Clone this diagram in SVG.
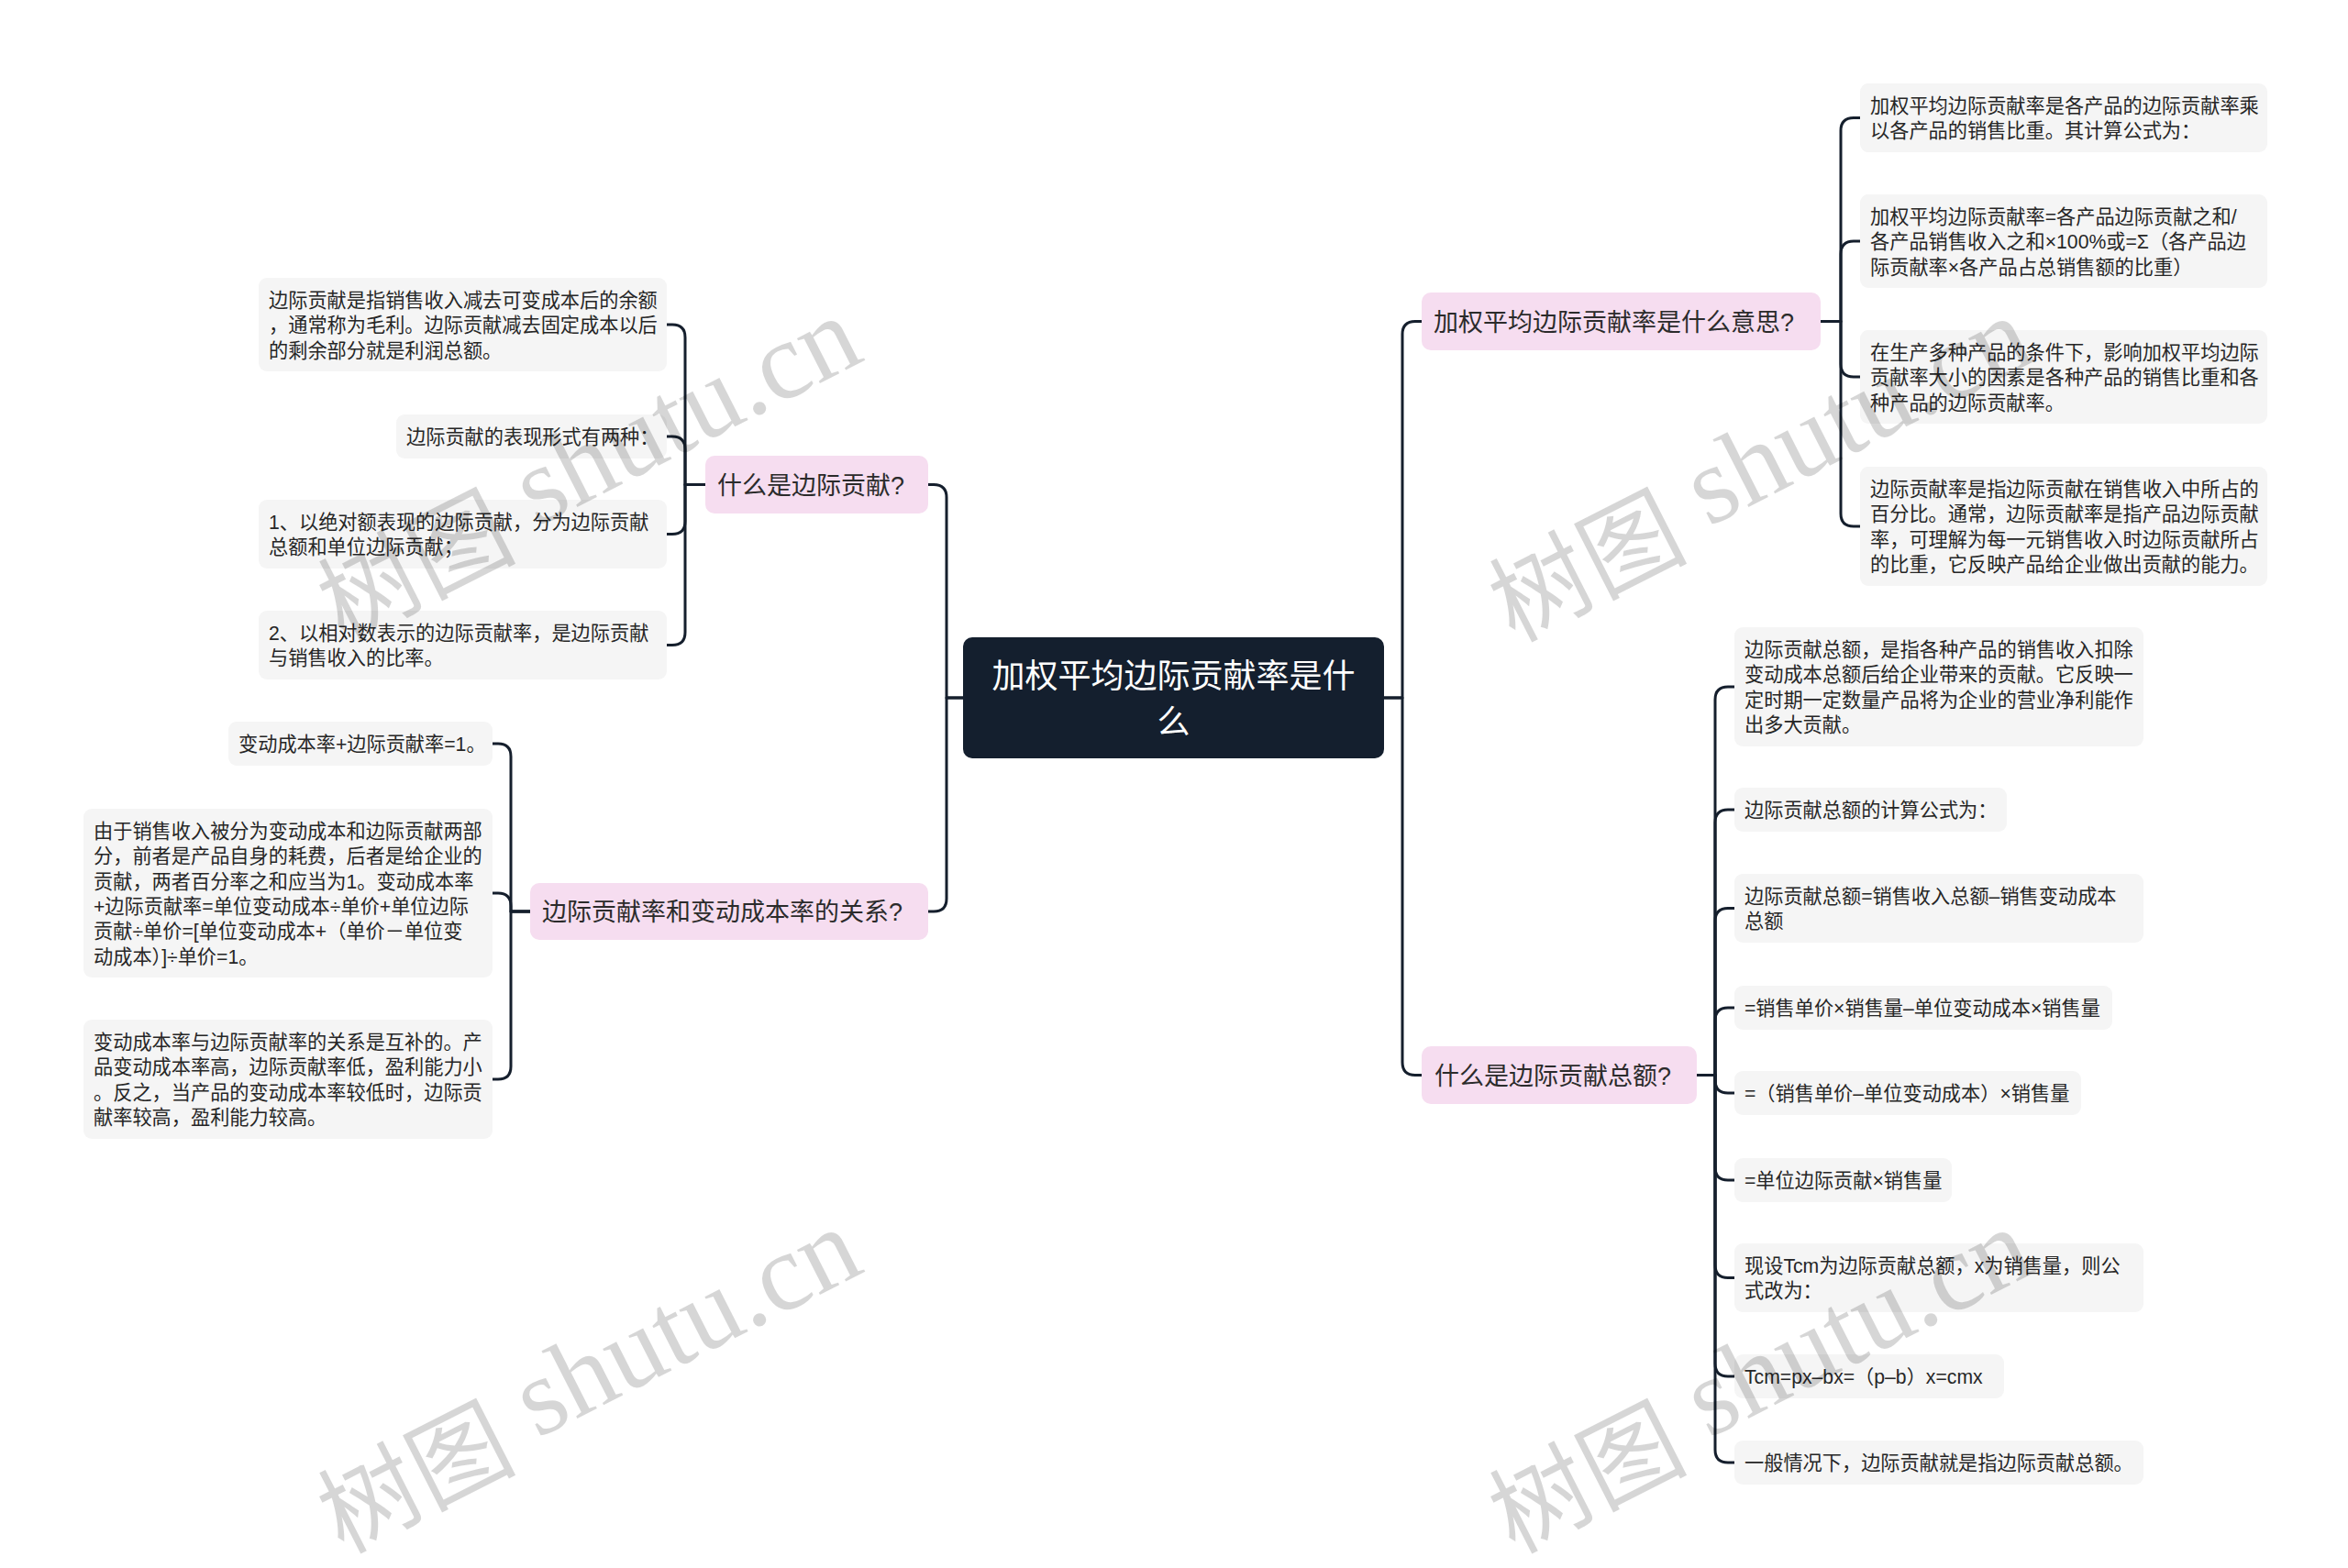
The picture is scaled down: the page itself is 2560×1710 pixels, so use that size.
<svg xmlns="http://www.w3.org/2000/svg" width="2560" height="1710" viewBox="0 0 2560 1710">
<style>
.bg{fill:#ffffff}
.root rect{fill:#141f2e}
.root text{fill:#ffffff;font-size:36px;text-anchor:middle}
.l1 rect{fill:#f6ddf0}
.l1 text{fill:#2b2b2b;font-size:27px}
.l2 rect{fill:#f5f5f5}
.l2 text{fill:#262626;font-size:21.2px}
text{font-family:"Liberation Sans","Noto Sans CJK SC",sans-serif}
.root text{font-family:"Noto Sans CJK SC","Noto Sans",sans-serif}
.conn path{fill:none;stroke:#151f2d;stroke-width:3;stroke-linecap:round;stroke-linejoin:round}
.wm{font-family:"Liberation Serif","Noto Sans CJK SC",serif;font-size:120px;fill:#000;fill-opacity:0.16;text-anchor:end}
.wm .cjk{font-family:"Noto Sans CJK SC",serif;font-size:108px}
</style>
<rect class="bg" x="0" y="0" width="2560" height="1710"/>
<g id="connectors" class="conn">
<path d="M1509,761 H1529 V364.5 Q1529,350.5 1543,350.5 H1550"/>
<path d="M1509,761 H1529 V1158.5 Q1529,1172.5 1543,1172.5 H1550"/>
<path d="M1050,761 H1032 V542.5 Q1032,528.5 1018,528.5 H1012"/>
<path d="M1050,761 H1032 V980 Q1032,994 1018,994 H1012"/>
<path d="M1985,350.5 H2007 V142.5 Q2007,128.5 2021,128.5 H2028"/>
<path d="M1985,350.5 H2007 V277 Q2007,263 2021,263 H2028"/>
<path d="M1985,350.5 H2007 V397 Q2007,411 2021,411 H2028"/>
<path d="M1985,350.5 H2007 V560 Q2007,574 2021,574 H2028"/>
<path d="M1850,1172.5 H1870 V763 Q1870,749 1884,749 H1891"/>
<path d="M1850,1172.5 H1870 V897 Q1870,883 1884,883 H1891"/>
<path d="M1850,1172.5 H1870 V1004.5 Q1870,990.5 1884,990.5 H1891"/>
<path d="M1850,1172.5 H1870 V1113 Q1870,1099 1884,1099 H1891"/>
<path d="M1850,1172.5 H1870 V1178 Q1870,1192 1884,1192 H1891"/>
<path d="M1850,1172.5 H1870 V1273 Q1870,1287 1884,1287 H1891"/>
<path d="M1850,1172.5 H1870 V1379.5 Q1870,1393.5 1884,1393.5 H1891"/>
<path d="M1850,1172.5 H1870 V1487 Q1870,1501 1884,1501 H1891"/>
<path d="M1850,1172.5 H1870 V1581 Q1870,1595 1884,1595 H1891"/>
<path d="M769,528.5 H747 V368 Q747,354 733,354 H727"/>
<path d="M769,528.5 H747 V490 Q747,476 733,476 H727"/>
<path d="M769,528.5 H747 V568.5 Q747,582.5 733,582.5 H727"/>
<path d="M769,528.5 H747 V689.5 Q747,703.5 733,703.5 H727"/>
<path d="M578,994 H557 V825 Q557,811 543,811 H537"/>
<path d="M578,994 H557 V988 Q557,974 543,974 H537"/>
<path d="M578,994 H557 V1163 Q557,1177 543,1177 H537"/>
</g>
<g id="root" class="root">
<rect x="1050" y="695" width="459" height="132" rx="10"/>
<text x="1279.5" y="750">加权平均边际贡献率是什<tspan x="1279.5" y="800">么</tspan></text>
</g>
<g id="nA" class="l1"><rect x="1550" y="319" width="435" height="63" rx="10"/><text x="1563" y="361">加权平均边际贡献率是什么意思?</text></g>
<g id="nC" class="l1"><rect x="1550" y="1141" width="300" height="63" rx="10"/><text x="1564" y="1183">什么是边际贡献总额?</text></g>
<g id="nD" class="l1"><rect x="769" y="497" width="243" height="63" rx="10"/><text x="782" y="539">什么是边际贡献?</text></g>
<g id="nE" class="l1"><rect x="578" y="963" width="434" height="62" rx="10"/><text x="591" y="1004">边际贡献率和变动成本率的关系?</text></g>
<g id="nB1" class="l2"><rect x="2028" y="91" width="444" height="75" rx="9"/><text x="2039" y="123">加权平均边际贡献率是各产品的边际贡献率乘<tspan x="2039" dy="27.3">以各产品的销售比重。其计算公式为：</tspan></text></g>
<g id="nB2" class="l2"><rect x="2028" y="212" width="444" height="102" rx="9"/><text x="2039" y="244">加权平均边际贡献率=各产品边际贡献之和/<tspan x="2039" dy="27.3">各产品销售收入之和×100%或=Σ（各产品边</tspan><tspan x="2039" dy="27.3">际贡献率×各产品占总销售额的比重）</tspan></text></g>
<g id="nB3" class="l2"><rect x="2028" y="360" width="444" height="102" rx="9"/><text x="2039" y="392">在生产多种产品的条件下，影响加权平均边际<tspan x="2039" dy="27.3">贡献率大小的因素是各种产品的销售比重和各</tspan><tspan x="2039" dy="27.3">种产品的边际贡献率。</tspan></text></g>
<g id="nB4" class="l2"><rect x="2028" y="509" width="444" height="130" rx="9"/><text x="2039" y="541">边际贡献率是指边际贡献在销售收入中所占的<tspan x="2039" dy="27.3">百分比。通常，边际贡献率是指产品边际贡献</tspan><tspan x="2039" dy="27.3">率，可理解为每一元销售收入时边际贡献所占</tspan><tspan x="2039" dy="27.3">的比重，它反映产品给企业做出贡献的能力。</tspan></text></g>
<g id="nC1" class="l2"><rect x="1891" y="684" width="446" height="130" rx="9"/><text x="1902" y="716">边际贡献总额，是指各种产品的销售收入扣除<tspan x="1902" dy="27.3">变动成本总额后给企业带来的贡献。它反映一</tspan><tspan x="1902" dy="27.3">定时期一定数量产品将为企业的营业净利能作</tspan><tspan x="1902" dy="27.3">出多大贡献。</tspan></text></g>
<g id="nC2" class="l2"><rect x="1891" y="859" width="297" height="48" rx="9"/><text x="1902" y="891">边际贡献总额的计算公式为：</text></g>
<g id="nC3" class="l2"><rect x="1891" y="953" width="446" height="75" rx="9"/><text x="1902" y="985">边际贡献总额=销售收入总额–销售变动成本<tspan x="1902" dy="27.3">总额</tspan></text></g>
<g id="nC4" class="l2"><rect x="1891" y="1075" width="412" height="48" rx="9"/><text x="1902" y="1107">=销售单价×销售量–单位变动成本×销售量</text></g>
<g id="nC5" class="l2"><rect x="1891" y="1168" width="378" height="48" rx="9"/><text x="1902" y="1200">=（销售单价–单位变动成本）×销售量</text></g>
<g id="nC6" class="l2"><rect x="1891" y="1263" width="237" height="48" rx="9"/><text x="1902" y="1295">=单位边际贡献×销售量</text></g>
<g id="nC7" class="l2"><rect x="1891" y="1356" width="446" height="75" rx="9"/><text x="1902" y="1388">现设Tcm为边际贡献总额，x为销售量，则公<tspan x="1902" dy="27.3">式改为：</tspan></text></g>
<g id="nC8" class="l2"><rect x="1891" y="1477" width="294" height="48" rx="9"/><text x="1902" y="1509">Tcm=px–bx=（p–b）x=cmx</text></g>
<g id="nC9" class="l2"><rect x="1891" y="1571" width="446" height="48" rx="9"/><text x="1902" y="1603">一般情况下，边际贡献就是指边际贡献总额。</text></g>
<g id="nD1" class="l2"><rect x="282" y="303" width="445" height="102" rx="9"/><text x="293" y="335">边际贡献是指销售收入减去可变成本后的余额<tspan x="293" dy="27.3">，通常称为毛利。边际贡献减去固定成本以后</tspan><tspan x="293" dy="27.3">的剩余部分就是利润总额。</tspan></text></g>
<g id="nD2" class="l2"><rect x="432" y="452" width="295" height="48" rx="9"/><text x="443" y="484">边际贡献的表现形式有两种：</text></g>
<g id="nD3" class="l2"><rect x="282" y="545" width="445" height="75" rx="9"/><text x="293" y="577">1、以绝对额表现的边际贡献，分为边际贡献<tspan x="293" dy="27.3">总额和单位边际贡献；</tspan></text></g>
<g id="nD4" class="l2"><rect x="282" y="666" width="445" height="75" rx="9"/><text x="293" y="698">2、以相对数表示的边际贡献率，是边际贡献<tspan x="293" dy="27.3">与销售收入的比率。</tspan></text></g>
<g id="nE1" class="l2"><rect x="249" y="787" width="288" height="48" rx="9"/><text x="260" y="819">变动成本率+边际贡献率=1。</text></g>
<g id="nE2" class="l2"><rect x="91" y="882" width="446" height="184" rx="9"/><text x="102" y="914">由于销售收入被分为变动成本和边际贡献两部<tspan x="102" dy="27.3">分，前者是产品自身的耗费，后者是给企业的</tspan><tspan x="102" dy="27.3">贡献，两者百分率之和应当为1。变动成本率</tspan><tspan x="102" dy="27.3">+边际贡献率=单位变动成本÷单价+单位边际</tspan><tspan x="102" dy="27.3">贡献÷单价=[单位变动成本+（单价－单位变</tspan><tspan x="102" dy="27.3">动成本）]÷单价=1。</tspan></text></g>
<g id="nE3" class="l2"><rect x="91" y="1112" width="446" height="130" rx="9"/><text x="102" y="1144">变动成本率与边际贡献率的关系是互补的。产<tspan x="102" dy="27.3">品变动成本率高，边际贡献率低，盈利能力小</tspan><tspan x="102" dy="27.3">。反之，当产品的变动成本率较低时，边际贡</tspan><tspan x="102" dy="27.3">献率较高，盈利能力较高。</tspan></text></g>
<g id="watermarks">
<text class="wm" x="945" y="392" transform="rotate(-27 945 392)"><tspan class="cjk" dy="16">树图</tspan><tspan dy="-16"> shutu.cn</tspan></text>
<text class="wm" x="2222" y="392" transform="rotate(-27 2222 392)"><tspan class="cjk" dy="16">树图</tspan><tspan dy="-16"> shutu.cn</tspan></text>
<text class="wm" x="945" y="1386" transform="rotate(-27 945 1386)"><tspan class="cjk" dy="16">树图</tspan><tspan dy="-16"> shutu.cn</tspan></text>
<text class="wm" x="2222" y="1386" transform="rotate(-27 2222 1386)"><tspan class="cjk" dy="16">树图</tspan><tspan dy="-16"> shutu.cn</tspan></text>
</g>
</svg>
